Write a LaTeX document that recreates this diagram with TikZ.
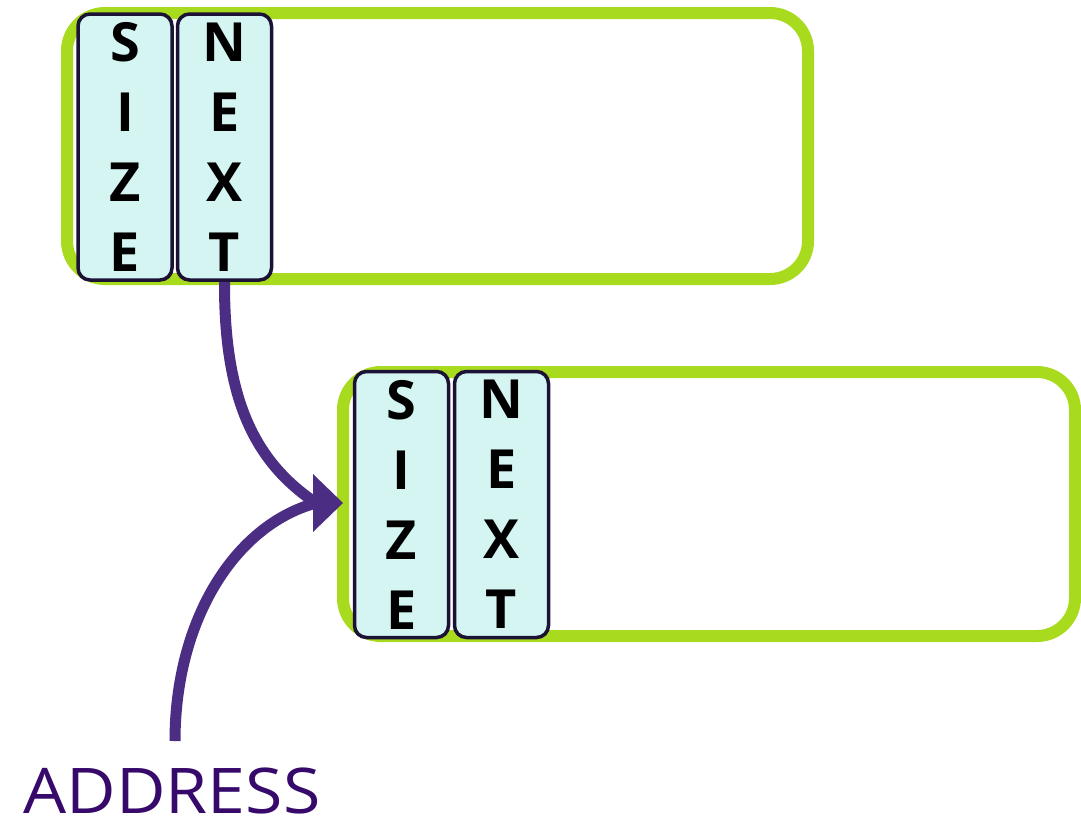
\documentclass[tikz,border=0pt]{standalone}
\usepackage{fontspec}
\usetikzlibrary{arrows.meta}
\setmainfont{Open Sans}
\definecolor{gbox}{HTML}{A8DA1E}
\definecolor{cfill}{HTML}{D5F5F3}
\definecolor{cdraw}{HTML}{1C1236}
\definecolor{arr}{HTML}{4B2E83}
\definecolor{addr}{HTML}{36096B}
\begin{document}
\begin{tikzpicture}[x=1pt,y=-1pt,
  chunk/.style={draw=gbox,line width=12pt,rounded corners=38pt},
  field/.style={draw=cdraw,fill=cfill,line width=3.5pt,rounded corners=12pt,
    minimum width=94pt,minimum height=266pt,inner sep=0pt,align=center,
    font=\fontsize{54}{70}\selectfont\bfseries},
  link/.style={draw=arr,line width=11pt},
  head/.style={draw=arr,fill=arr,line width=1pt,-{Triangle[length=30pt,width=58pt,line width=0pt]}}]
\useasboundingbox (0,0) rectangle (1081,823);
% chunks
\draw[chunk] (67,13) rectangle (808,279);
\draw[chunk] (343,372) rectangle (1075,636);
% fields
\node[field] (sizeA) at (125,147) {S\\I\\Z\\E};
\node[field] (nextA) at (224.5,147) {N\\E\\X\\T};
\node[field] (sizeB) at (401.5,504.5) {S\\I\\Z\\E};
\node[field] (nextB) at (501.5,504.5) {N\\E\\X\\T};
% address label
\node[text=addr,font=\fontsize{63}{70}\selectfont,inner sep=0pt,anchor=base,xscale=1.08] (addr) at (172,813) {ADDRESS};
\coordinate (tip) at (343,503);
\coordinate (join) at (316,503);
\coordinate (addrtop) at (175,741);
% links
\draw[link] (nextA.south) .. controls (224,400) and (255,462) .. (join);
\draw[link] (addrtop) .. controls (175,620) and (235,525) .. (join);
\draw[head] (join) -- (tip);
\end{tikzpicture}
\end{document}
